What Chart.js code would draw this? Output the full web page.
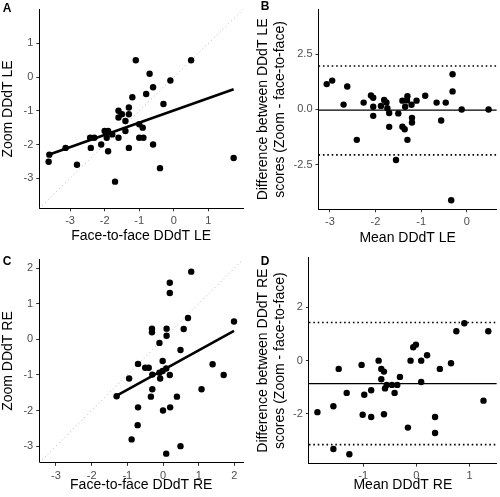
<!DOCTYPE html>
<html>
<head>
<meta charset="utf-8">
<script src="https://cdn.jsdelivr.net/npm/chart.js@4.4.1/dist/chart.umd.min.js"></script>
<style>
html,body{margin:0;padding:0;background:#fff;width:500px;height:497px;overflow:hidden}
canvas{position:absolute;display:block}
</style>
</head>
<body>
<canvas id="cA" width="250" height="248" style="left:0;top:0"></canvas>
<canvas id="cB" width="250" height="248" style="left:250px;top:0"></canvas>
<canvas id="cC" width="250" height="249" style="left:0;top:248px"></canvas>
<canvas id="cD" width="250" height="249" style="left:250px;top:248px"></canvas>
<script>
// ---------- Panel A: LE, face-to-face vs zoom ----------
const faceLE = [-3.62,-3.60,-3.13,-2.80,-2.42,-2.40,-2.30,-2.10,-2.00,-1.94,-1.90,-1.90,-1.78,-1.70,-1.60,-1.60,-1.60,-1.50,-1.40,-1.40,-1.30,-1.30,-1.30,-1.20,-1.10,-1.00,-1.00,-0.90,-0.88,-0.80,-0.70,-0.60,-0.60,-0.40,-0.30,-0.10,0.50,1.73];
const zoomLE = [-2.51,-2.30,-2.10,-2.60,-1.80,-2.10,-1.80,-2.00,-1.60,-1.80,-1.60,-2.20,-1.70,-3.10,-1.00,-1.20,-1.80,-1.10,-1.30,-1.60,-0.90,-1.10,-2.10,-0.60,0.50,-1.40,-1.80,-1.50,-1.80,-0.50,0.10,-0.30,-2.00,-2.70,-0.80,-0.10,0.50,-2.40];
const regLE_x = [-3.62, 1.73];
const regLE_y = [-2.30, -0.36];
const limitsA = [-3.89, 2.0];
const ticksA = [-3,-2,-1,0,1];

// ---------- Panel B: LE Bland-Altman ----------
const meanLE = [-3.07,-2.95,-2.62,-2.70,-2.41,-2.26,-2.10,-2.05,-2.05,-2.05,-1.88,-1.81,-1.76,-1.74,-1.70,-1.70,-1.55,-1.50,-1.41,-1.41,-1.36,-1.35,-1.30,-1.31,-1.30,-1.21,-1.20,-1.20,-1.10,-0.91,-0.66,-0.56,-0.46,-0.31,-0.31,-0.34,-0.11,0.48];
const diffLE = [1.15,1.31,1.04,0.22,-1.38,0.31,0.63,0.53,0.12,-0.29,0.16,0.43,0.32,0.06,-0.16,-0.79,-2.29,-0.18,0.40,-0.78,-0.90,0.12,0.60,0.41,-1.38,0.21,-0.38,-0.59,0.40,0.62,0.31,-0.50,0.31,1.60,0.82,-4.12,0.00,0.00];
const biasLE = -0.03;
const loaLE = [1.97, -2.06];
const xLimB = [-3.25, 0.66];
const yLimB = [-4.53, 4.53];
const ticksBx = [-3,-2,-1,0];
const ticksBy = [-2.5,0,2.5];

// ---------- Panel C: RE, face-to-face vs zoom ----------
const faceRE = [-1.30,-0.95,-0.88,-0.70,-0.70,-0.71,-0.50,-0.40,-0.31,-0.31,-0.30,-0.30,-0.34,-0.10,-0.10,-0.08,-0.01,-0.01,0.00,0.10,0.10,0.09,0.09,0.19,0.19,0.19,0.20,0.39,0.49,0.49,0.58,0.70,0.79,1.08,1.39,1.70,1.99];
const zoomRE = [-1.60,-1.10,-2.81,-0.69,-1.91,-2.41,-0.80,-0.80,0.30,0.20,-0.99,-1.40,-1.61,-0.10,-0.94,-1.10,-0.61,-0.89,-2.00,0.30,0.10,-0.82,-3.21,1.59,1.30,-1.00,-1.91,-1.61,-0.30,-3.00,0.29,0.60,1.90,-1.40,-0.70,-1.00,0.50];
const regRE_x = [-1.30, 1.99];
const regRE_y = [-1.58, 0.24];
const limitsC = [-3.47, 2.25];
const ticksC = [-3,-2,-1,0,1,2];

// ---------- Panel D: RE Bland-Altman ----------
const meanRE = [-1.86,-1.56,-1.56,-1.46,-1.31,-1.26,-1.03,-1.01,-0.98,-0.85,-0.85,-0.71,-0.66,-0.61,-0.66,-0.59,-0.61,-0.56,-0.46,-0.36,-0.41,-0.31,-0.16,-0.11,-0.06,-0.01,0.09,0.09,0.20,0.35,0.35,0.44,0.65,0.75,0.90,1.26,1.35];
const diffRE = [-1.93,-1.71,-3.31,-0.31,-1.21,-3.51,-0.16,-2.03,-1.28,-1.11,-2.11,0.00,-0.31,-0.41,-0.70,-1.04,-2.01,-0.91,-0.91,-0.91,-1.21,-0.61,-2.51,0.00,0.50,0.60,0.00,-0.80,0.20,-2.11,-2.71,-0.31,-0.10,1.10,1.40,-1.50,1.10];
const biasRE = -0.86;
const loaRE = [1.43, -3.15];
const xLimD = [-2.02, 1.51];
const yLimD = [-3.86, 3.86];
const ticksDx = [-1,0,1];
const ticksDy = [-2,0,2];

// ---------- helpers ----------
const FAMILY = '"Liberation Sans", Arial, Helvetica, sans-serif';
const pts = (xs, ys) => xs.map((x, i) => ({x: x, y: ys[i]}));

function letterPlugin(letter, lx, ly) {
  return {
    id: 'tag' + letter,
    afterDraw(chart) {
      const ctx = chart.ctx;
      ctx.save();
      ctx.fillStyle = '#000';
      ctx.font = 'bold 12px ' + FAMILY;
      ctx.textBaseline = 'alphabetic';
      ctx.textAlign = 'left';
      ctx.fillText(letter, lx, ly);
      ctx.restore();
    }
  };
}

function axis(pos, lim, ticks, fmt, title, size, titlePad) {
  const cfg = {
    type: 'linear',
    position: pos,
    min: lim[0], max: lim[1],
    afterBuildTicks: s => { s.ticks = ticks.map(v => ({value: v})); },
    grid: {display: true, drawOnChartArea: false, drawTicks: true, tickLength: 3, color: '#333', lineWidth: 1},
    border: {display: true, color: '#000', width: 1},
    ticks: {color: '#4d4d4d', font: {family: FAMILY, size: 11}, padding: 3, maxRotation: 0, autoSkip: false,
            callback: v => fmt(v)},
    title: {display: true, text: title, color: '#000', font: {family: FAMILY, size: 14, lineHeight: 1.2},
            padding: pos === 'bottom' ? {top: 0, bottom: titlePad} : {top: titlePad, bottom: 0}}
  };
  if (pos === 'bottom') cfg.afterFit = s => { s.height = size; };
  else cfg.afterFit = s => { s.width = size; };
  return cfg;
}

function makeChart(id, datasets, xAxis, yAxis, pad, plugin) {
  return new Chart(document.getElementById(id), {
    type: 'scatter',
    data: {datasets: datasets},
    options: {
      responsive: false, animation: false, devicePixelRatio: 1,
      layout: {padding: pad},
      plugins: {legend: {display: false}, tooltip: {enabled: false}},
      scales: {x: xAxis, y: yAxis}
    },
    plugins: [plugin]
  });
}

const intFmt = v => String(v);
const oneDec = v => v.toFixed(1);

function scatterSet(xs, ys) {
  return {data: pts(xs, ys), pointRadius: 3.2, pointHoverRadius: 3.2, backgroundColor: '#000', borderWidth: 0, order: 2};
}
function lineSet(x0, x1, y0, y1, style) {
  return Object.assign({data: [{x: x0, y: y0}, {x: x1, y: y1}], showLine: true, pointRadius: 0, fill: false, borderColor: '#000', borderCapStyle: 'butt'}, style);
}

// Panel A
makeChart('cA', [
  lineSet(regLE_x[0], regLE_x[1], regLE_y[0], regLE_y[1], {borderWidth: 2.6, order: 1}),
  scatterSet(faceLE, zoomLE),
  lineSet(limitsA[0], limitsA[1], limitsA[0], limitsA[1], {borderColor: '#b0b0b0', borderWidth: 1, borderDash: [1, 3], order: 3})
], axis('bottom', limitsA, ticksA, intFmt, 'Face-to-face DDdT LE', 39.7, 3.8),
   axis('left', limitsA, ticksA, intFmt, 'Zoom DDdT LE', 39.3, 0),
   {top: 4, right: 7, bottom: 0, left: 0}, letterPlugin('A', 2.7, 11.7));

// Panel B
makeChart('cB', [
  scatterSet(meanLE, diffLE),
  lineSet(xLimB[0], xLimB[1], biasLE, biasLE, {borderWidth: 1.4, order: 3}),
  lineSet(xLimB[0], xLimB[1], loaLE[0], loaLE[0], {borderWidth: 1.6, borderDash: [1.6, 2.8], order: 3}),
  lineSet(xLimB[0], xLimB[1], loaLE[1], loaLE[1], {borderWidth: 1.6, borderDash: [1.6, 2.8], order: 3})
], axis('bottom', xLimB, ticksBx, intFmt, 'Mean DDdT LE', 38.7, 1.2),
   axis('left', yLimB, ticksBy, oneDec, ['Difference between DDdT LE', 'scores (Zoom - face-to-face)'], 68.5, 4.7),
   {top: 4, right: 2.8, bottom: 0, left: 0}, letterPlugin('B', 10.7, 10));

// Panel C
makeChart('cC', [
  lineSet(regRE_x[0], regRE_x[1], regRE_y[0], regRE_y[1], {borderWidth: 2.6, order: 1}),
  scatterSet(faceRE, zoomRE),
  lineSet(limitsC[0], limitsC[1], limitsC[0], limitsC[1], {borderColor: '#b0b0b0', borderWidth: 1, borderDash: [1, 3], order: 3})
], axis('bottom', limitsC, ticksC, intFmt, 'Face-to-face DDdT RE', 34.1, 3.2),
   axis('left', limitsC, ticksC, intFmt, 'Zoom DDdT RE', 39.2, 0),
   {top: 11.2, right: 6.7, bottom: 0, left: 0}, letterPlugin('C', 2.7, 17.3));

// Panel D
makeChart('cD', [
  scatterSet(meanRE, diffRE),
  lineSet(xLimD[0], xLimD[1], biasRE, biasRE, {borderWidth: 1.4, order: 3}),
  lineSet(xLimD[0], xLimD[1], loaRE[0], loaRE[0], {borderWidth: 1.6, borderDash: [1.6, 2.8], order: 3}),
  lineSet(xLimD[0], xLimD[1], loaRE[1], loaRE[1], {borderWidth: 1.6, borderDash: [1.6, 2.8], order: 3})
], axis('bottom', xLimD, ticksDx, intFmt, 'Mean DDdT RE', 33.4, 3.2),
   axis('left', yLimD, ticksDy, intFmt, ['Difference between DDdT RE', 'scores (Zoom - face-to-face)'], 58.9, 4.7),
   {top: 9.7, right: 2.8, bottom: 0, left: 0}, letterPlugin('D', 10.7, 17.3));
</script>
</body>
</html>
